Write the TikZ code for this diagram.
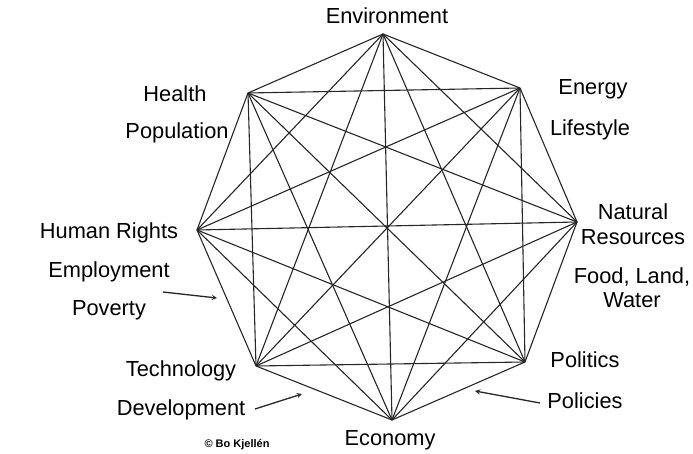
\documentclass[tikz,border=0pt]{standalone}
\usepackage{fontspec}
\setmainfont{Liberation Sans}
\usetikzlibrary{positioning}

\begin{document}
\begin{tikzpicture}[x=1pt,y=-1pt,on grid,
    every node/.style={font=\fontsize{21.8}{26}\selectfont,inner sep=1pt},
    link/.style={line width=1.1pt,black!85},
    pointer/.style={->,>=stealth,line width=1.3pt,black!85}]
    \useasboundingbox (0,0) rectangle (693,454);
    % corners of the octagon
    \coordinate (v0) at (383,34);
    \coordinate (v1) at (520,88);
    \coordinate (v2) at (577,222);
    \coordinate (v3) at (525,362);
    \coordinate (v4) at (392,420);
    \coordinate (v5) at (256,366);
    \coordinate (v6) at (197,230);
    \coordinate (v7) at (248,93);
    % every corner joined to every other
    \foreach \i in {1,...,7} {
        \pgfmathtruncatemacro\k{\i-1}
        \foreach \j in {0,...,\k}
            \draw[link] (v\i) -- (v\j);
    }
    % labels
    \node (environment) at (387,16) {Environment};
    \node (health) at (175,94) {Health};
    \node (population) [below=39pt of health,xshift=2pt] {Population};
    \node (energy) at (593,89) {Energy};
    \node (lifestyle) [below=41pt of energy,xshift=-3pt] {Lifestyle};
    \node (natural) at (633,212) {Natural};
    \node (resources) [below=25pt of natural] {Resources};
    \node (food) at (632,277) {Food, Land,};
    \node (water) [below=23pt of food] {Water};
    \node (rights) at (109,233) {Human Rights};
    \node (employment) [below=39pt of rights] {Employment};
    \node (poverty) [below=38pt of employment] {Poverty};
    \node (technology) at (181,371) {Technology};
    \node (development) [below=39pt of technology] {Development};
    \node (politics) at (585,360) {Politics};
    \node (policies) [below=41pt of politics] {Policies};
    \node (economy) at (390,440) {Economy};
    \node (credit) at (237,445) {\fontsize{11}{13}\selectfont\bfseries\textcopyright\ Bo Kjellén};
    % arrows
    \coordinate (t1) at (163,292);
    \coordinate (p1) at (217,298);
    \coordinate (t2) at (255,409);
    \coordinate (p2) at (302,394);
    \coordinate (t3) at (540,403);
    \coordinate (p3) at (475,391);
    \draw[pointer] (t1) -- (p1);
    \draw[pointer] (t2) -- (p2);
    \draw[pointer] (t3) -- (p3);
\end{tikzpicture}
\end{document}
